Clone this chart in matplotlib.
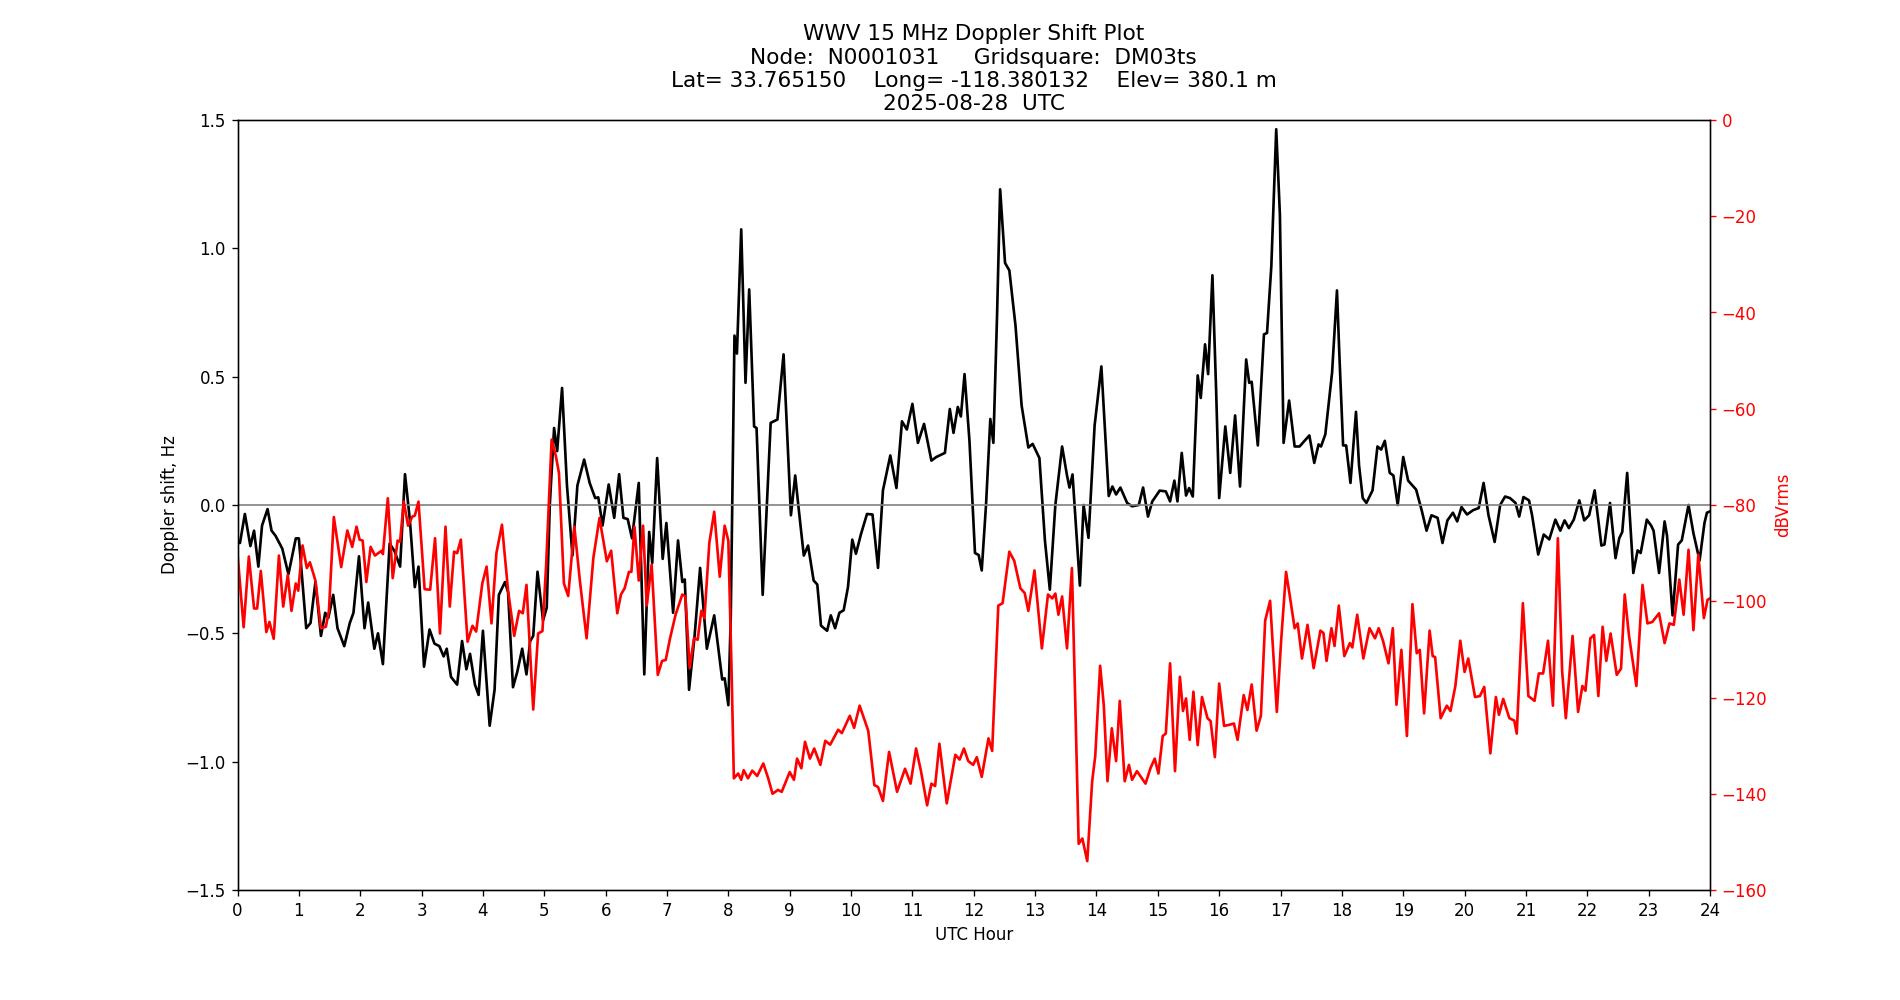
"""
WWV 15 MHz Doppler shift plot for one day.
Doppler shift (left axis, black) and received power (right axis, red).
"""

import matplotlib
matplotlib.use('Agg')  # Use non-interactive backend
import matplotlib.pyplot as plt

# ============================================================================
# Data
# ============================================================================

doppler_hours = [
    0.00, 0.04, 0.12, 0.21, 0.27, 0.34, 0.40, 0.49, 0.555, 0.62, 0.73, 0.83, 0.95, 1.00,
    1.12, 1.19, 1.27, 1.36, 1.43, 1.48, 1.56, 1.63, 1.74, 1.83, 1.89, 1.98, 2.07, 2.13,
    2.23, 2.29, 2.37, 2.48, 2.56, 2.65, 2.73, 2.81, 2.89, 2.95, 3.04, 3.13, 3.21, 3.29,
    3.36, 3.41, 3.48, 3.58, 3.66, 3.73, 3.79, 3.87, 3.93, 4.00, 4.11, 4.19, 4.26, 4.36,
    4.41, 4.49, 4.56, 4.64, 4.71, 4.77, 4.82, 4.89, 4.98, 5.04, 5.09, 5.16, 5.21, 5.29,
    5.37, 5.46, 5.54, 5.65, 5.74, 5.83, 5.88, 5.95, 6.05, 6.14, 6.22, 6.29, 6.36, 6.43,
    6.54, 6.63, 6.71, 6.76, 6.84, 6.93, 6.99, 7.10, 7.18, 7.25, 7.29, 7.36, 7.45, 7.54,
    7.65, 7.77, 7.90, 7.94, 8.00, 8.04, 8.10, 8.14, 8.21, 8.28, 8.34, 8.42, 8.46, 8.56,
    8.69, 8.80, 8.90, 9.02, 9.09, 9.14, 9.23, 9.30, 9.39, 9.45, 9.51, 9.61, 9.67, 9.74,
    9.81, 9.88, 9.95, 10.02, 10.08, 10.16, 10.26, 10.35, 10.44, 10.52, 10.64, 10.74, 10.83, 10.91,
    11.00, 11.09, 11.19, 11.31, 11.39, 11.53, 11.61, 11.67, 11.74, 11.79, 11.85, 11.93, 12.02, 12.08,
    12.13, 12.20, 12.27, 12.32, 12.38, 12.43, 12.51, 12.58, 12.68, 12.78, 12.89, 12.96, 13.07, 13.16,
    13.24, 13.33, 13.44, 13.52, 13.56, 13.61, 13.73, 13.79, 13.87, 13.97, 14.08, 14.20, 14.26, 14.32,
    14.39, 14.50, 14.58, 14.69, 14.76, 14.84, 14.91, 15.03, 15.13, 15.20, 15.27, 15.32, 15.39, 15.46,
    15.51, 15.57, 15.65, 15.70, 15.77, 15.82, 15.89, 15.95, 16.00, 16.10, 16.18, 16.26, 16.34, 16.44,
    16.49, 16.53, 16.63, 16.73, 16.78, 16.85, 16.93, 16.99, 17.05, 17.14, 17.23, 17.31, 17.47, 17.55,
    17.62, 17.66, 17.73, 17.84, 17.92, 17.96, 18.02, 18.07, 18.14, 18.23, 18.28, 18.34, 18.40, 18.50,
    18.58, 18.64, 18.70, 18.78, 18.84, 18.91, 19.00, 19.08, 19.21, 19.30, 19.38, 19.46, 19.56, 19.64,
    19.72, 19.81, 19.88, 19.95, 20.04, 20.14, 20.23, 20.31, 20.39, 20.49, 20.58, 20.66, 20.74, 20.83,
    20.89, 20.96, 21.05, 21.10, 21.20, 21.29, 21.38, 21.48, 21.56, 21.63, 21.70, 21.78, 21.87, 21.95,
    22.03, 22.12, 22.23, 22.28, 22.37, 22.46, 22.52, 22.57, 22.65, 22.75, 22.82, 22.87, 22.97, 23.04,
    23.08, 23.17, 23.26, 23.30, 23.39, 23.48, 23.54, 23.65, 23.73, 23.83, 23.91, 23.95, 24.00,
]

doppler_hz = [
    -0.148, -0.148, -0.035, -0.16, -0.10, -0.24, -0.08, -0.016, -0.10, -0.12, -0.17, -0.27, -0.13, -0.13,
    -0.48, -0.46, -0.30, -0.51, -0.42, -0.44, -0.35, -0.48, -0.55, -0.46, -0.42, -0.20, -0.48, -0.38,
    -0.56, -0.50, -0.62, -0.15, -0.18, -0.24, 0.12, -0.06, -0.32, -0.24, -0.63, -0.485, -0.54, -0.55,
    -0.59, -0.56, -0.67, -0.70, -0.53, -0.64, -0.58, -0.70, -0.74, -0.49, -0.86, -0.72, -0.35, -0.30,
    -0.34, -0.71, -0.65, -0.56, -0.66, -0.53, -0.51, -0.26, -0.45, -0.40, 0.0, 0.30, 0.21, 0.456,
    0.076, -0.197, 0.076, 0.177, 0.086, 0.027, 0.03, -0.08, 0.08, -0.05, 0.12, -0.05, -0.055, -0.13,
    0.086, -0.66, -0.105, -0.226, 0.183, -0.21, -0.07, -0.42, -0.138, -0.30, -0.29, -0.72, -0.51, -0.245,
    -0.56, -0.43, -0.68, -0.675, -0.78, -0.43, 0.66, 0.59, 1.074, 0.476, 0.84, 0.306, 0.30, -0.35,
    0.32, 0.333, 0.587, -0.04, 0.115, 0.0, -0.197, -0.158, -0.294, -0.31, -0.47, -0.49, -0.43, -0.48,
    -0.42, -0.41, -0.32, -0.135, -0.19, -0.115, -0.035, -0.037, -0.245, 0.057, 0.193, 0.066, 0.326, 0.294,
    0.394, 0.242, 0.316, 0.173, 0.187, 0.203, 0.374, 0.281, 0.382, 0.345, 0.51, 0.25, -0.187, -0.195,
    -0.255, 0.0, 0.335, 0.242, 0.74, 1.23, 0.943, 0.914, 0.70, 0.388, 0.224, 0.238, 0.183, -0.138,
    -0.33, 0.0, 0.228, 0.115, 0.068, 0.119, -0.314, 0.0, -0.128, 0.31, 0.54, 0.035, 0.072, 0.041,
    0.068, 0.008, -0.005, 0.0, 0.068, -0.045, 0.014, 0.056, 0.053, 0.014, 0.095, 0.014, 0.203, 0.037,
    0.066, 0.033, 0.505, 0.417, 0.626, 0.51, 0.895, 0.45, 0.027, 0.306, 0.125, 0.349, 0.072, 0.567,
    0.476, 0.48, 0.232, 0.665, 0.67, 0.93, 1.464, 1.13, 0.242, 0.407, 0.228, 0.228, 0.271, 0.164,
    0.236, 0.228, 0.275, 0.515, 0.836, 0.58, 0.232, 0.232, 0.086, 0.363, 0.154, 0.027, 0.008, 0.057,
    0.228, 0.216, 0.25, 0.125, 0.115, 0.0, 0.187, 0.095, 0.06, -0.02, -0.10, -0.04, -0.05, -0.148,
    -0.06, -0.03, -0.064, -0.008, -0.037, -0.02, -0.012, 0.086, -0.04, -0.144, 0.0, 0.033, 0.027, 0.008,
    -0.045, 0.031, 0.018, -0.04, -0.193, -0.115, -0.134, -0.057, -0.10, -0.06, -0.09, -0.057, 0.018, -0.06,
    -0.04, 0.057, -0.158, -0.154, 0.008, -0.207, -0.13, -0.105, 0.125, -0.265, -0.177, -0.187, -0.057, -0.08,
    -0.10, -0.265, -0.064, -0.12, -0.43, -0.154, -0.138, 0.0, -0.11, -0.216, -0.07, -0.03, -0.025,
]

power_hours = [
    0.00, 0.10, 0.185, 0.27, 0.32, 0.38, 0.47, 0.52, 0.59, 0.675, 0.745, 0.82, 0.88, 0.95,
    0.99, 1.06, 1.13, 1.18, 1.27, 1.36, 1.44, 1.49, 1.57, 1.69, 1.79, 1.87, 1.94, 1.99,
    2.04, 2.10, 2.17, 2.24, 2.35, 2.37, 2.45, 2.53, 2.61, 2.65, 2.71, 2.78, 2.85, 2.89,
    2.95, 3.05, 3.14, 3.22, 3.30, 3.39, 3.46, 3.53, 3.58, 3.64, 3.75, 3.83, 3.89, 3.99,
    4.06, 4.14, 4.22, 4.31, 4.41, 4.51, 4.59, 4.65, 4.71, 4.82, 4.90, 4.97, 5.03, 5.12,
    5.19, 5.24, 5.32, 5.39, 5.49, 5.58, 5.69, 5.80, 5.90, 6.02, 6.09, 6.19, 6.25, 6.31,
    6.38, 6.42, 6.47, 6.54, 6.61, 6.67, 6.75, 6.85, 6.92, 6.98, 7.05, 7.14, 7.25, 7.30,
    7.37, 7.44, 7.50, 7.56, 7.61, 7.69, 7.77, 7.86, 7.94, 8.00, 8.05, 8.09, 8.16, 8.21,
    8.25, 8.32, 8.39, 8.47, 8.57, 8.65, 8.72, 8.81, 8.87, 9.00, 9.07, 9.12, 9.19, 9.25,
    9.33, 9.40, 9.50, 9.58, 9.66, 9.79, 9.85, 9.98, 10.05, 10.14, 10.28, 10.38, 10.44, 10.52,
    10.62, 10.75, 10.88, 10.97, 11.06, 11.14, 11.24, 11.31, 11.37, 11.44, 11.56, 11.70, 11.77, 11.84,
    11.91, 11.99, 12.05, 12.13, 12.24, 12.30, 12.40, 12.47, 12.58, 12.66, 12.76, 12.83, 12.89, 12.99,
    13.11, 13.21, 13.28, 13.33, 13.38, 13.44, 13.52, 13.60, 13.65, 13.71, 13.77, 13.85, 13.93, 13.98,
    14.06, 14.12, 14.18, 14.25, 14.32, 14.38, 14.46, 14.53, 14.58, 14.66, 14.80, 14.88, 14.95, 15.01,
    15.08, 15.13, 15.20, 15.28, 15.36, 15.41, 15.46, 15.52, 15.58, 15.65, 15.72, 15.81, 15.86, 15.93,
    16.00, 16.08, 16.16, 16.24, 16.30, 16.40, 16.46, 16.53, 16.61, 16.68, 16.75, 16.83, 16.94, 17.01,
    17.09, 17.15, 17.23, 17.28, 17.35, 17.44, 17.54, 17.65, 17.70, 17.75, 17.83, 17.88, 17.95, 18.04,
    18.13, 18.17, 18.25, 18.35, 18.45, 18.54, 18.60, 18.67, 18.76, 18.83, 18.89, 18.97, 19.06, 19.15,
    19.22, 19.27, 19.34, 19.43, 19.48, 19.52, 19.61, 19.71, 19.77, 19.85, 19.93, 20.00, 20.06, 20.17,
    20.25, 20.32, 20.42, 20.51, 20.56, 20.63, 20.73, 20.81, 20.85, 20.95, 21.04, 21.14, 21.21, 21.28,
    21.36, 21.44, 21.52, 21.59, 21.65, 21.76, 21.85, 21.92, 21.97, 22.05, 22.11, 22.18, 22.25, 22.31,
    22.38, 22.48, 22.55, 22.61, 22.68, 22.80, 22.90, 22.98, 23.06, 23.17, 23.26, 23.34, 23.41, 23.50,
    23.57, 23.65, 23.73, 23.81, 23.90, 23.96, 24.00,
]

power_dbv = [
    -90.1, -105.4, -90.7, -101.5, -101.5, -93.7, -106.4, -104.3, -107.8, -90.5, -101.1, -94.5, -102, -96.3,
    -97.8, -88.4, -93.1, -91.9, -95.7, -105.6, -105.3, -102, -82.5, -92.9, -85.3, -88.7, -84.5, -87.2,
    -87.4, -96, -88.7, -90.5, -89.5, -90.2, -78.6, -95.2, -87.4, -87.6, -79.3, -84.3, -82.4, -82.2,
    -79.3, -97.5, -97.6, -86.9, -106.7, -84.5, -101.1, -89.7, -90.0, -87.2, -108.4, -105.1, -106.3, -96.3,
    -92.8, -104.6, -90, -84.1, -97.8, -107.2, -102, -102.5, -96.6, -122.5, -106.7, -106.2, -92.6, -66.4,
    -69.9, -73.4, -96.3, -98.9, -84.5, -95.7, -107.7, -91, -82.7, -91.7, -89.5, -102.5, -98.6, -97.3,
    -93.9, -93.9, -84.5, -95.7, -84.3, -100.9, -92.4, -115.3, -112.4, -112.2, -107.7, -102.8, -98.6, -99.0,
    -113.9, -107.7, -108.0, -102, -103.5, -87.9, -81.4, -94.9, -84.3, -87.4, -113, -136.8, -135.8, -137.1,
    -135.1, -136.8, -135.2, -136.3, -133.7, -136.8, -140, -139.2, -139.6, -135.5, -137.1, -132.7, -134.7, -129.2,
    -132.7, -130.6, -134, -129, -129.8, -126.7, -127.4, -123.8, -126.3, -121.7, -126.9, -138.2, -138.6, -141.5,
    -131.3, -139.6, -134.8, -137.9, -130.6, -135.3, -142.4, -137.9, -138.4, -129.6, -142, -131.9, -132.9, -130.6,
    -133.2, -134, -132.4, -136.5, -128.5, -131.1, -100.9, -100.4, -89.7, -91.6, -97.3, -98.3, -102, -93.6,
    -109.8, -98.6, -99.4, -98.4, -102.8, -99, -109.8, -93.1, -118.6, -150.4, -149.3, -154, -137.4, -132.2,
    -113.4, -121.7, -137.4, -126.4, -133.2, -120.7, -137.4, -134, -137.1, -135.3, -137.9, -134.7, -132.7, -135.8,
    -128, -127.5, -112.9, -135.3, -115.7, -122.8, -120.2, -128.8, -118.8, -129.9, -119.9, -124.3, -124.9, -132.4,
    -117.1, -125.9, -125.7, -125.4, -128.8, -119.5, -122.6, -117.3, -126.9, -123.8, -104, -99.9, -123, -108.2,
    -93.9, -98.8, -105.6, -104.6, -111.9, -104.9, -113.9, -106.1, -106.6, -112.4, -105.6, -109.3, -100.9, -111.4,
    -108.7, -109.6, -102.8, -111.9, -105.6, -107.7, -105.6, -108.2, -112.9, -105.6, -121.5, -110.1, -128, -100.6,
    -110.8, -110.1, -123.3, -106.1, -111.4, -111.6, -124.3, -121.7, -122.8, -117.6, -108.2, -114.7, -111.9, -119.9,
    -119.7, -117.8, -131.6, -119.9, -123.6, -120.3, -124.3, -124.8, -127.5, -100.4, -119.7, -120.7, -115, -115,
    -108.2, -121.7, -86.9, -114.5, -124.3, -107.2, -123, -117.6, -118.6, -107.7, -107, -119.7, -105.3, -112.4,
    -106.7, -115.3, -114, -98.6, -107.2, -117.6, -96.6, -104.6, -104.3, -102.5, -108.7, -104.6, -104.9, -95.5,
    -102.8, -89.3, -106, -90.3, -103.5, -99.7, -99.4,
]

hour_ticks = list(range(0, 25))

title_lines = [
    'WWV 15 MHz Doppler Shift Plot',
    'Node:  N0001031     Gridsquare:  DM03ts',
    'Lat= 33.765150    Long= -118.380132    Elev= 380.1 m',
    '2025-08-28  UTC',
]

# ============================================================================
# Plot
# ============================================================================

fig, ax = plt.subplots(figsize=(19 / 1.2, 10 / 1.2), dpi=120)

ax.plot(doppler_hours, doppler_hz, color='black', linewidth=1.6,
        solid_joinstyle='round')
ax.axhline(0, color='grey', linewidth=1)
ax.set_xlim(0, 24)
ax.set_ylim(-1.5, 1.5)
ax.set_xticks(hour_ticks)
ax.set_xlabel('UTC Hour')
ax.set_ylabel('Doppler shift, Hz')
ax.set_title('\n'.join(title_lines), fontsize=13)

# Received power on a second y axis
ax2 = ax.twinx()
ax2.plot(power_hours, power_dbv, color='red', linewidth=1.6,
         solid_joinstyle='round')
ax2.set_ylim(-160, 0)
ax2.set_ylabel('dBVrms', color='red')
ax2.tick_params(axis='y', colors='red')
ax2.spines['right'].set_color('black')

fig.savefig('out.png', dpi=120)
plt.close(fig)
